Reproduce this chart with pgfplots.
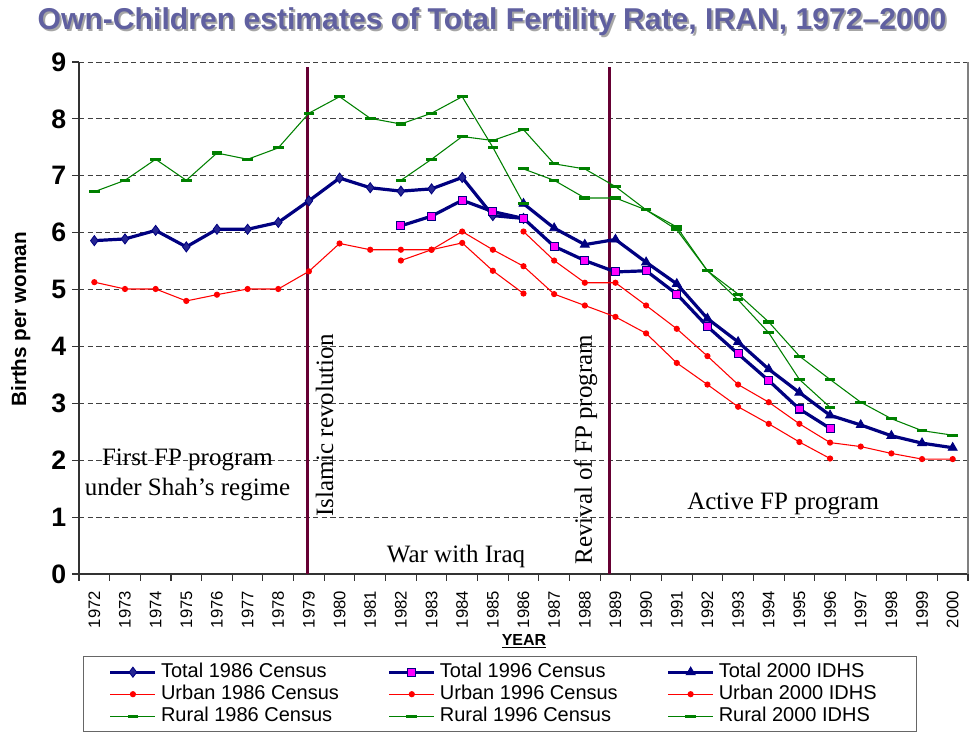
\documentclass[border=0pt]{standalone}
\usepackage{pgfplots}
\pgfplotsset{compat=1.18}
\usepackage{fontspec}
\setmainfont{Liberation Sans}
\newfontfamily\seriffont{Liberation Serif}
\definecolor{navyc}{RGB}{0,0,128}
\definecolor{magc}{RGB}{255,0,255}
\definecolor{redc}{RGB}{255,0,0}
\definecolor{greenc}{RGB}{0,128,0}
\definecolor{maroonc}{RGB}{102,0,51}
\definecolor{titlec}{RGB}{96,96,160}
\begin{document}
\begin{tikzpicture}
\useasboundingbox (-59.25pt,-119.25pt) rectangle (670.5pt,430.5pt);
\begin{axis}[
  at={(0pt,0pt)}, anchor=south west,
  scale only axis, width=666.75pt, height=384pt,
  xmin=-0.5, xmax=28.5, ymin=0, ymax=9,
  clip=false,
  axis x line*=bottom, axis y line*=left,
  axis line style={-, black!80, line width=0.9pt},
  xtick={0,...,28},
  xticklabels={1972,1973,1974,1975,1976,1977,1978,1979,1980,1981,1982,1983,1984,1985,1986,1987,1988,1989,1990,1991,1992,1993,1994,1995,1996,1997,1998,1999,2000},
  major x tick style={draw=none},
  minor xtick={-0.5,0.5,...,28.5},
  tick align=outside,
  major tick length=5pt, minor tick length=5pt,
  ytick={0,...,9},
  ymajorgrids,
  major grid style={dash pattern=on 4pt off 2.5pt, black!75, line width=0.6pt},
  tick style={black!80, line width=0.8pt},
  /pgf/number format/assume math mode=true,
  yticklabel style={font=\fontsize{20}{20}\selectfont\bfseries, xshift=-1pt},
  xticklabel style={font=\fontsize{12.5}{13}\selectfont, rotate=90, anchor=east, inner sep=0pt, xshift=-7.5pt},
  legend columns=3,
  legend cell align=left,
  legend style={
    at={(axis description cs:0.0045,-0.1602)}, anchor=north west,
    draw=black!60, line width=0.75pt,
    inner xsep=19pt, inner ysep=4.5pt,
    font=\fontsize{15}{18}\selectfont,
    nodes={inner xsep=0pt, inner ysep=0pt, text height=11pt, text depth=3.5pt},
    row sep=2pt,
    /tikz/every odd column/.append style={column sep=3pt},
    /tikz/every even column/.append style={column sep=5pt},
  },
  legend image code/.code={\draw[mark repeat=2,mark phase=2,#1] plot coordinates {(0pt,0pt) (16.875pt,0pt) (33.75pt,0pt)};},
]
\addplot[maroonc, line width=2.3pt, forget plot] coordinates {(6.96,0) (6.96,8.92)};
\addplot[maroonc, line width=2.3pt, forget plot] coordinates {(16.8,0) (16.8,8.92)};

% Total 1986 Census
\addplot[navyc, line width=2.4pt, mark=diamond*, mark size=3.8pt, mark options={solid, fill=navyc!85!white, draw=navyc, line width=0.6pt}] coordinates {
(0,5.86) (1,5.89) (2,6.04) (3,5.75) (4,6.06) (5,6.06) (6,6.18) (7,6.56) (8,6.96) (9,6.79) (10,6.73) (11,6.77) (12,6.97) (13,6.30) (14,6.25)};
\addlegendentry{\makebox[165pt][l]{Total 1986 Census}}
% Total 1996 Census
\addplot[navyc, line width=2.4pt, mark=square*, mark size=3pt, mark options={solid, fill=magc, draw=navyc, line width=0.8pt}] coordinates {
(10,6.12) (11,6.29) (12,6.57) (13,6.37) (14,6.25) (15,5.76) (16,5.51) (17,5.31) (18,5.33) (19,4.92) (20,4.35) (21,3.87) (22,3.40) (23,2.90) (24,2.56)};
\addlegendentry{\makebox[165pt][l]{Total 1996 Census}}
% Total 2000 IDHS
\addplot[navyc, line width=2.4pt, mark=triangle*, mark size=3.9pt, mark options={solid, fill=navyc, draw=navyc, line width=0.6pt}] coordinates {
(14,6.51) (15,6.08) (16,5.79) (17,5.88) (18,5.48) (19,5.10) (20,4.49) (21,4.08) (22,3.60) (23,3.19) (24,2.79) (25,2.62) (26,2.43) (27,2.30) (28,2.22)};
\addlegendentry{\makebox[129.5pt][l]{Total 2000 IDHS}}
% Urban 1986 Census
\addplot[redc, line width=0.8pt, mark=*, mark size=1.9pt, mark options={solid, fill=redc, draw=redc}] coordinates {
(0,5.13) (1,5.01) (2,5.01) (3,4.80) (4,4.91) (5,5.01) (6,5.01) (7,5.32) (8,5.81) (9,5.70) (10,5.70) (11,5.70) (12,5.82) (13,5.33) (14,4.93)};
\addlegendentry{\makebox[165pt][l]{Urban 1986 Census}}
% Urban 1996 Census
\addplot[redc, line width=0.8pt, mark=*, mark size=1.9pt, mark options={solid, fill=redc, draw=redc}] coordinates {
(10,5.51) (11,5.70) (12,6.02) (13,5.70) (14,5.41) (15,4.92) (16,4.72) (17,4.52) (18,4.23) (19,3.71) (20,3.33) (21,2.94) (22,2.64) (23,2.32) (24,2.03)};
\addlegendentry{\makebox[165pt][l]{Urban 1996 Census}}
% Urban 2000 IDHS
\addplot[redc, line width=0.8pt, mark=*, mark size=1.9pt, mark options={solid, fill=redc, draw=redc}] coordinates {
(14,6.02) (15,5.51) (16,5.12) (17,5.12) (18,4.72) (19,4.31) (20,3.83) (21,3.33) (22,3.02) (23,2.64) (24,2.31) (25,2.24) (26,2.12) (27,2.02) (28,2.02)};
\addlegendentry{\makebox[129.5pt][l]{Urban 2000 IDHS}}
% Rural 1986 Census
\addplot[greenc, line width=0.8pt, mark=-, mark size=4pt, mark options={solid, line width=2.3pt}] coordinates {
(0,6.72) (1,6.92) (2,7.29) (3,6.92) (4,7.40) (5,7.29) (6,7.49) (7,8.10) (8,8.39) (9,8.01) (10,7.91) (11,8.10) (12,8.39) (13,7.50) (14,6.51)};
\addlegendentry{\makebox[165pt][l]{Rural 1986 Census}}
% Rural 1996 Census
\addplot[greenc, line width=0.8pt, mark=-, mark size=4pt, mark options={solid, line width=2.3pt}] coordinates {
(10,6.92) (11,7.29) (12,7.69) (13,7.62) (14,7.81) (15,7.21) (16,7.12) (17,6.81) (18,6.40) (19,6.05) (20,5.33) (21,4.82) (22,4.24) (23,3.42) (24,2.93)};
\addlegendentry{\makebox[165pt][l]{Rural 1996 Census}}
% Rural 2000 IDHS
\addplot[greenc, line width=0.8pt, mark=-, mark size=4pt, mark options={solid, line width=2.3pt}] coordinates {
(14,7.12) (15,6.92) (16,6.61) (17,6.61) (18,6.40) (19,6.10) (20,5.33) (21,4.92) (22,4.43) (23,3.83) (24,3.42) (25,3.02) (26,2.73) (27,2.52) (28,2.44)};
\addlegendentry{\makebox[129.5pt][l]{Rural 2000 IDHS}}

\draw[black!50, line width=0.9pt] (axis cs:28.5,0) -- (axis cs:28.5,9);

\tikzset{annot/.style={font=\seriffont\fontsize{18.75}{22.5}\selectfont, inner sep=0pt}}
\node[annot, anchor=base] at (axis cs:3.04,1.916) {First FP program};
\node[annot, anchor=base] at (axis cs:3.04,1.388) {under Shah’s regime};
\node[annot, rotate=90, anchor=base west] at (axis cs:7.79,1.0) {Islamic revolution};
\node[annot, rotate=90, anchor=base west] at (axis cs:16.23,0.16) {Revival of FP program};
\node[annot, anchor=base] at (axis cs:11.8,0.21) {War with Iraq};
\node[annot, anchor=base] at (axis cs:22.47,1.14) {Active FP program};
\end{axis}
\node[rotate=90, font=\fontsize{15.5}{16}\selectfont\bfseries] at (-43.7pt,191pt) {Births per woman};
\node[font=\fontsize{12}{12}\selectfont\bfseries, anchor=base] at (333.75pt,-53.25pt) {\underline{YEAR}};
\node[font=\fontsize{22.6}{26}\selectfont\bfseries, text=black!35] at (311.2pt,412.6pt) {Own-Children estimates of Total Fertility Rate, IRAN, 1972–2000};
\node[font=\fontsize{22.6}{26}\selectfont\bfseries, text=titlec] at (309.75pt,414pt) {Own-Children estimates of Total Fertility Rate, IRAN, 1972–2000};
\end{tikzpicture}
\end{document}
